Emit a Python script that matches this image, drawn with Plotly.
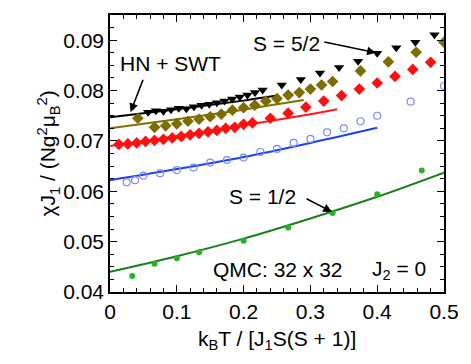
import plotly.graph_objects as go

# S = 1/2 (QMC, green dots) and theory curve
x_s05 = [0.0333, 0.0667, 0.1, 0.1333, 0.2, 0.2667, 0.3333, 0.4, 0.4667]
y_s05 = [0.0432, 0.0456, 0.0467, 0.0479, 0.0502, 0.0528, 0.0557, 0.0594, 0.0641]
xl_s05 = [0.0, 0.1, 0.2, 0.3, 0.4, 0.5]
yl_s05 = [0.0440, 0.0471, 0.0506, 0.0546, 0.0589, 0.0637]

# S = 1 (open circles)
x_s1 = [0.025, 0.0375, 0.05, 0.075, 0.1, 0.125, 0.15, 0.175, 0.2, 0.225, 0.25,
        0.275, 0.3, 0.325, 0.35, 0.375, 0.4, 0.45, 0.5]
y_s1 = [0.0618, 0.0622, 0.0631, 0.0636, 0.0642, 0.0647, 0.0657, 0.0662, 0.0667,
        0.0678, 0.0684, 0.0696, 0.0704, 0.0717, 0.0725, 0.0739, 0.0750, 0.0778, 0.0809]
xl_s1 = [0.0, 0.1, 0.2, 0.3, 0.4]
yl_s1 = [0.0622, 0.0644, 0.0668, 0.0696, 0.0726]

# S = 3/2 (red diamonds)
x_s15 = [0.0133, 0.0267, 0.04, 0.0533, 0.0667, 0.08, 0.0933, 0.1067, 0.12, 0.1333,
         0.1467, 0.16, 0.1733, 0.1867, 0.2, 0.2133, 0.24, 0.2667, 0.2933, 0.32,
         0.3467, 0.3733, 0.4, 0.4267, 0.4533, 0.48]
y_s15 = [0.0693, 0.0694, 0.0696, 0.0699, 0.0701, 0.0703, 0.0706, 0.0709, 0.0712, 0.0715,
         0.0718, 0.0721, 0.0725, 0.0727, 0.0733, 0.0736, 0.0745, 0.0755, 0.0767, 0.0779,
         0.0790, 0.0803, 0.0815, 0.0828, 0.0842, 0.0856]
xl_s15 = [0.0, 0.1, 0.2, 0.3, 0.34]
yl_s15 = [0.0690, 0.0710, 0.0731, 0.0753, 0.0763]

# S = 2 (olive diamonds)
x_s2 = [0.0417, 0.0667, 0.0833, 0.1, 0.1167, 0.1333, 0.15, 0.1667, 0.1833, 0.2,
        0.2167, 0.2333, 0.25, 0.2667, 0.2833, 0.3, 0.3167, 0.3333, 0.375, 0.4167,
        0.4583, 0.5]
y_s2 = [0.0745, 0.0727, 0.0730, 0.0734, 0.0739, 0.0743, 0.0748, 0.0753, 0.0761, 0.0766,
        0.0771, 0.0779, 0.0784, 0.0791, 0.0796, 0.0803, 0.0811, 0.0818, 0.0839, 0.0857,
        0.0876, 0.0896]
xl_s2 = [0.0, 0.1, 0.2, 0.29]
yl_s2 = [0.0725, 0.0743, 0.0762, 0.0781]

# S = 5/2 (black down triangles)
x_s25 = [0.0571, 0.0686, 0.08, 0.0914, 0.1029, 0.1143, 0.1257, 0.1371, 0.1486, 0.16,
         0.1714, 0.1829, 0.1943, 0.2057, 0.2171, 0.2286, 0.2571, 0.2857, 0.3143, 0.3429,
         0.3714, 0.4, 0.4286, 0.4571, 0.4857]
y_s25 = [0.0757, 0.0760, 0.0759, 0.0762, 0.0765, 0.0764, 0.0768, 0.0771, 0.0773, 0.0776,
         0.0779, 0.0783, 0.0787, 0.0791, 0.0796, 0.0801, 0.0811, 0.0822, 0.0835, 0.0846,
         0.0858, 0.0874, 0.0885, 0.0896, 0.0911]
xl_s25 = [0.0, 0.1, 0.2, 0.25]
yl_s25 = [0.0747, 0.0763, 0.0780, 0.0790]

FONT = "Arial, Liberation Sans, sans-serif"
FS = 21

fig = go.Figure()

# theory lines first, symbols on top
fig.add_trace(go.Scatter(x=xl_s05, y=yl_s05, mode="lines", line=dict(color="#17801a", width=2, shape="spline")))
fig.add_trace(go.Scatter(x=xl_s1, y=yl_s1, mode="lines", line=dict(color="#1f3ff5", width=2, shape="spline")))
fig.add_trace(go.Scatter(x=xl_s15, y=yl_s15, mode="lines", line=dict(color="#ff1a1a", width=2, shape="spline")))
fig.add_trace(go.Scatter(x=xl_s2, y=yl_s2, mode="lines", line=dict(color="#7d7000", width=2, shape="spline")))
fig.add_trace(go.Scatter(x=xl_s25, y=yl_s25, mode="lines", line=dict(color="#000000", width=2, shape="spline")))

fig.add_trace(go.Scatter(x=x_s05, y=y_s05, mode="markers",
                         marker=dict(symbol="circle", size=6, color="#28b028")))
fig.add_trace(go.Scatter(x=x_s1, y=y_s1, mode="markers",
                         marker=dict(symbol="circle-open", size=7, color="#7b8cf2", line=dict(width=1.2))))
fig.add_trace(go.Scatter(x=x_s15, y=y_s15, mode="markers",
                         marker=dict(symbol="diamond", size=9, color="#ff1010")))
fig.add_trace(go.Scatter(x=x_s2, y=y_s2, mode="markers",
                         marker=dict(symbol="diamond", size=9, color="#7d6c00")))
fig.add_trace(go.Scatter(x=x_s25, y=y_s25, mode="markers",
                         marker=dict(symbol="triangle-down", size=9, color="#000000")))

# labels and arrows
txt = dict(font=dict(family=FONT, size=FS, color="black"), showarrow=False, xref="x", yref="y")
arr = dict(text="", showarrow=True, arrowhead=2, arrowsize=1.1, arrowwidth=1.6, arrowcolor="black",
           xref="x", yref="y", axref="pixel", ayref="pixel")
fig.add_annotation(x=0.0905, y=0.0854, text="HN + SWT", **txt)
fig.add_annotation(x=0.0308, y=0.0757, ax=13, ay=-34, **arr)
fig.add_annotation(x=0.264, y=0.0893, text="S = 5/2", **txt)
fig.add_annotation(x=0.398, y=0.0875, ax=-53, ay=-11, **arr)
fig.add_annotation(x=0.2285, y=0.0589, text="S = 1/2", **txt)
fig.add_annotation(x=0.3324, y=0.0559, ax=-27, ay=-14, **arr)
fig.add_annotation(x=0.2517, y=0.0444, text="QMC: 32 x 32", **txt)
fig.add_annotation(x=0.432, y=0.0444, text="J<sub>2</sub> = 0", **txt)

# axis titles
fig.add_annotation(x=-0.235, y=0.5, xref="paper", yref="paper", textangle=-90, showarrow=False,
                   text="χJ<sub>1</sub> / (Ng<sup>2</sup>μ<sub>B</sub><sup>2</sup>)",
                   font=dict(family=FONT, size=FS, color="black"))
fig.add_annotation(x=0.5, y=-0.12, xref="paper", yref="paper", showarrow=False, yanchor="top",
                   text="k<sub>B</sub>T / [J<sub>1</sub>S(S + 1)]",
                   font=dict(family=FONT, size=FS, color="black"))

axis_common = dict(showgrid=False, zeroline=False, showline=True, linecolor="black", linewidth=1.5,
                   ticks="inside", ticklen=7, tickwidth=1.3, tickcolor="black", mirror="allticks",
                   tickfont=dict(family=FONT, size=FS, color="black"))
fig.update_xaxes(range=[0, 0.5], tickvals=[0, 0.1, 0.2, 0.3, 0.4, 0.5],
                 minor=dict(dtick=0.02, ticks="inside", ticklen=4, tickwidth=1, tickcolor="black"),
                 **axis_common)
fig.update_yaxes(range=[0.04, 0.095], tickvals=[0.04, 0.05, 0.06, 0.07, 0.08, 0.09], tickformat=".2f",
                 minor=dict(dtick=0.0025, ticks="inside", ticklen=4, tickwidth=1, tickcolor="black"),
                 **axis_common)

fig.update_layout(width=471, height=364, showlegend=False, plot_bgcolor="white", paper_bgcolor="white",
                  margin=dict(l=110, r=20, t=15, b=72))

# page body has a default margin; drop it so the figure sits at the window origin
fig.write_html("out.html", config={"displayModeBar": False},
               post_script="document.body.style.margin='0px';")
